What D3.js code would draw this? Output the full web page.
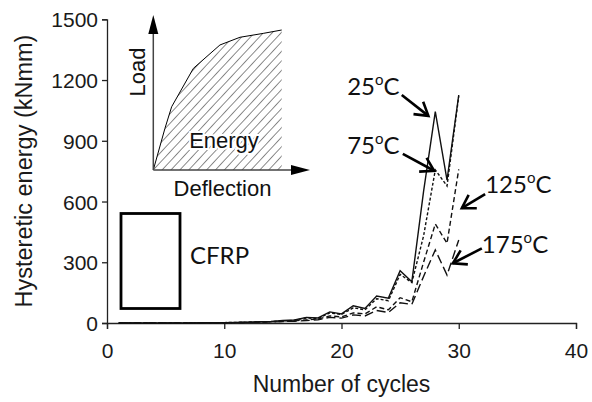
<!DOCTYPE html>
<html><head><meta charset="utf-8">
<script src="https://cdn.jsdelivr.net/npm/d3@7"></script>
<style>body{margin:0;background:#fff}svg{display:block}</style>
</head><body>
<svg id="c" width="592" height="402"></svg>
<script>
const cycles = d3.range(1, 31);
const e25  = [0,0,0,0,0,0,0,1,1,2,3,4,6,8,12,15,28,25,55,45,85,72,133,123,258,204,650,1044,706,1126];
const e75  = [0,0,0,0,0,0,0,1,1,2,3,4,5,7,10,14,25,22,50,42,75,65,120,110,240,200,430,756,677,1120];
const e125 = [0,0,0,0,0,0,0,0,1,1,2,3,4,6,8,11,15,20,35,30,50,45,80,65,125,105,300,489,394,759];
const e175 = [0,0,0,0,0,0,0,0,1,1,2,3,4,5,7,9,12,16,28,24,40,35,62,52,100,92,230,361,237,410];
const seriesNames = ["25oC","75oC","125oC","175oC"];
const xTicks = [0,10,20,30,40];
const yTicks = [0,300,600,900,1200,1500];
const insetCurve = [[0,0],[0.091,0.298],[0.143,0.452],[0.195,0.536],[0.312,0.726],[0.519,0.893],[0.675,0.948],[0.857,0.976],[1,1]];

const svg = d3.select("#c");
const x = d3.scaleLinear().domain([0,40]).range([107,576]);
const y = d3.scaleLinear().domain([0,1500]).range([323,19.3]);
const F = "'Liberation Sans', Arial, sans-serif";
const FA = "Lato, 'Open Sans', sans-serif";

// axes
const xa = svg.append("g").attr("transform","translate(0,323)")
  .call(d3.axisBottom(x).tickValues(xTicks).tickSize(6).tickPadding(4).tickFormat(d3.format("d")));
const ya = svg.append("g").attr("transform","translate(107,0)")
  .call(d3.axisLeft(y).tickValues(yTicks).tickSize(5).tickPadding(4).tickFormat(d3.format("d")));
[xa,ya].forEach(a=>{
  a.select(".domain").attr("stroke","#222").attr("stroke-width",1.3);
  a.selectAll(".tick line").attr("stroke","#222").attr("stroke-width",1.3);
  a.selectAll("text").attr("font-family",F).attr("font-size",21).attr("fill","#1a1a1a");
});
xa.selectAll("text").attr("dy",null).attr("y",35);
ya.selectAll("text").attr("dy","0.36em");

svg.append("text").attr("x",(x(0)+x(40))/2).attr("y",392).attr("text-anchor","middle")
  .attr("font-family",F).attr("font-size",23).attr("fill","#1a1a1a").text("Number of cycles");
svg.append("text").attr("transform","translate(32,171) rotate(-90)").attr("text-anchor","middle")
  .attr("font-family",F).attr("font-size",23.5).attr("fill","#1a1a1a").text("Hysteretic energy (kNmm)");

// series
const data = [e25,e75,e125,e175];
const dashes = [null,"3,2","5,3","9,4"];
const line = d3.line().x((d,i)=>x(cycles[i])).y(d=>y(d));
data.forEach((s,k)=>{
  svg.append("path").datum(s).attr("d",line).attr("fill","none")
    .attr("stroke","#111").attr("stroke-width",1.4)
    .attr("stroke-dasharray",dashes[k]);
});

// annotations (data coords)
const labels = [
  {t:"25",  lx:20.48, ly:1126, tail:[25.14,1126], tip:[27.41,1023]},
  {t:"75",  lx:20.48, ly:835,  tail:[25.23,835],  tip:[27.9,752]},
  {t:"125", lx:32.25, ly:641,  tail:[32.25,637],  tip:[30.26,567]},
  {t:"175", lx:31.97, ly:347,  tail:[31.97,369],  tip:[29.5,295]}
];
labels.forEach(l=>{
  const t = svg.append("text").attr("x",x(l.lx)).attr("y",y(l.ly))
    .attr("font-family",FA).attr("font-size",24).attr("fill","#111");
  t.append("tspan").text(l.t);
  t.append("tspan").attr("font-size",15).attr("dy",-10).text("o");
  t.append("tspan").attr("dy",10).text("C");
  const x0=x(l.tail[0]), y0=y(l.tail[1]), x1=x(l.tip[0]), y1=y(l.tip[1]);
  svg.append("line").attr("x1",x0).attr("y1",y0).attr("x2",x1).attr("y2",y1)
    .attr("stroke","#000").attr("stroke-width",2.6);
  const ang = Math.atan2(y1-y0,x1-x0), L=15, w=0.55;
  const p = [[x1-L*Math.cos(ang-w), y1-L*Math.sin(ang-w)],[x1,y1],[x1-L*Math.cos(ang+w), y1-L*Math.sin(ang+w)]];
  svg.append("path").attr("d",d3.line()(p)).attr("fill","none").attr("stroke","#000")
    .attr("stroke-width",2.6).attr("stroke-linejoin","miter");
});

// CFRP box
svg.append("rect").attr("x",121).attr("y",213.5).attr("width",59).attr("height",95)
  .attr("fill","none").attr("stroke","#000").attr("stroke-width",2.8);
svg.append("text").attr("x",190).attr("y",264).attr("font-family",FA).attr("font-size",24)
  .attr("fill","#111").text("CFRP");

// inset
const ix = d3.scaleLinear().domain([0,1]).range([153.3,281.7]);
const iy = d3.scaleLinear().domain([0,1]).range([170,30]);
const defs = svg.append("defs");
const pat = defs.append("pattern").attr("id","hatch").attr("patternUnits","userSpaceOnUse")
  .attr("width",6.5).attr("height",6.5).attr("patternTransform","rotate(43)");
pat.append("line").attr("x1",0).attr("y1",0).attr("x2",0).attr("y2",6.5)
  .attr("stroke","#000").attr("stroke-width",0.9);
const area = insetCurve.map(d=>[ix(d[0]),iy(d[1])]).concat([[ix(1),iy(0)]]);
svg.append("path").attr("d",d3.line()(area)+"Z").attr("fill","url(#hatch)").attr("stroke","none");
svg.append("path").attr("d",d3.line()(insetCurve.map(d=>[ix(d[0]),iy(d[1])])))
  .attr("fill","none").attr("stroke","#000").attr("stroke-width",1);
// inset axes
svg.append("line").attr("x1",ix(0)).attr("y1",iy(0)).attr("x2",ix(0)).attr("y2",34)
  .attr("stroke","#444").attr("stroke-width",1.5);
svg.append("path").attr("d",`M${ix(0)-5},34 L${ix(0)},15 L${ix(0)+5},34 Z`).attr("fill","#000");
svg.append("line").attr("x1",ix(0)).attr("y1",iy(0)).attr("x2",291).attr("y2",iy(0))
  .attr("stroke","#444").attr("stroke-width",1.5);
svg.append("path").attr("d",`M291,${iy(0)-5} L310,${iy(0)} L291,${iy(0)+5} Z`).attr("fill","#000");
svg.append("text").attr("transform","translate(145,72) rotate(-90)").attr("text-anchor","middle")
  .attr("font-family",F).attr("font-size",22).attr("fill","#111").text("Load");
const et = svg.append("text").attr("x",224).attr("y",148).attr("text-anchor","middle")
  .attr("font-family",F).attr("font-size",22).attr("fill","#111")
  .attr("stroke","#fff").attr("stroke-width",4).attr("paint-order","stroke").text("Energy");
svg.append("text").attr("x",222.5).attr("y",196).attr("text-anchor","middle")
  .attr("font-family",F).attr("font-size",22).attr("fill","#111").text("Deflection");
</script>
</body></html>
